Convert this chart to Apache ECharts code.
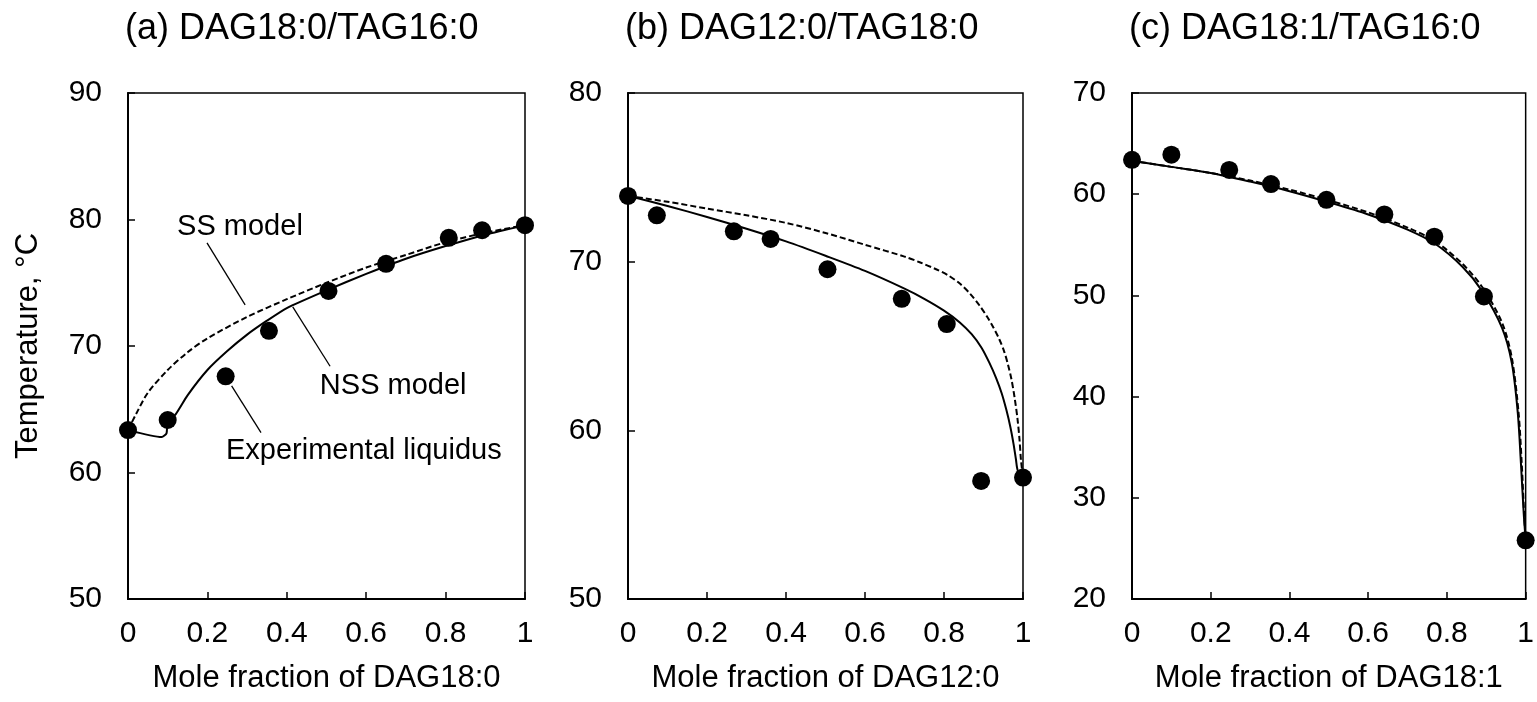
<!DOCTYPE html>
<html>
<head>
<meta charset="utf-8">
<script src="https://cdn.jsdelivr.net/npm/echarts@6/dist/echarts.min.js"></script>
<style>html,body{margin:0;padding:0;background:#fff;}#c{width:1537px;height:702px;}</style>
</head>
<body>
<div id="c"></div>
<script>
// ---------- Panel (a) DAG18:0/TAG16:0 ----------
const aExpX = [0, 0.10, 0.246, 0.355, 0.505, 0.65, 0.808, 0.892, 1];
const aExpT = [63.35, 64.15, 67.6, 71.2, 74.35, 76.5, 78.55, 79.15, 79.55];
const aNssX = [0, 0.085, 0.097, 0.10, 0.12, 0.15, 0.2, 0.25, 0.3, 0.35, 0.4, 0.5, 0.6, 0.7, 0.8, 0.9, 1];
const aNssT = [63.35, 62.8, 63.1, 64.0, 64.6, 66.1, 68.1, 69.6, 70.9, 72.0, 73.0, 74.4, 75.7, 76.9, 77.9, 78.8, 79.55];
const aSsX = [0, 0.02, 0.05, 0.1, 0.15, 0.2, 0.3, 0.4, 0.5, 0.6, 0.7, 0.8, 0.9, 1];
const aSsT = [63.35, 64.6, 66.3, 68.1, 69.5, 70.6, 72.3, 73.7, 75.0, 76.2, 77.2, 78.2, 78.95, 79.55];

// ---------- Panel (b) DAG12:0/TAG18:0 ----------
const bExpX = [0, 0.073, 0.268, 0.361, 0.505, 0.693, 0.807, 0.894, 1];
const bExpT = [73.9, 72.75, 71.8, 71.35, 69.55, 67.8, 66.3, 57.0, 57.2];
const bNssX = [0, 0.1, 0.2, 0.3, 0.4, 0.5, 0.6, 0.7, 0.75, 0.8, 0.84, 0.87, 0.895, 0.915, 0.932, 0.946, 0.958, 0.968, 0.976, 0.982, 0.987, 1];
const bNssT = [73.9, 73.3, 72.65, 71.95, 71.2, 70.35, 69.45, 68.4, 67.8, 67.1, 66.4, 65.7, 64.9, 64.0, 63.1, 62.2, 61.2, 60.2, 59.2, 58.3, 57.6, 57.2];
const bSsX = [0, 0.1, 0.2, 0.3, 0.4, 0.5, 0.6, 0.7, 0.74, 0.78, 0.81, 0.84, 0.866, 0.89, 0.91, 0.925, 0.94, 0.952, 0.962, 0.971, 0.979, 0.986, 0.991, 0.995, 1];
const bSsT = [73.9, 73.55, 73.15, 72.75, 72.3, 71.7, 71.0, 70.3, 69.95, 69.55, 69.2, 68.7, 68.1, 67.4, 66.7, 66.1, 65.4, 64.7, 63.9, 63.0, 61.9, 60.7, 59.5, 58.2, 57.2];

// ---------- Panel (c) DAG18:1/TAG16:0 ----------
const cExpX = [0, 0.10, 0.247, 0.353, 0.494, 0.641, 0.768, 0.894, 1];
const cExpT = [63.4, 63.9, 62.4, 61.0, 59.45, 58.0, 55.8, 49.9, 25.8];
const cNssX = [0, 0.1, 0.2, 0.3, 0.4, 0.5, 0.6, 0.7, 0.77, 0.84, 0.89, 0.94, 0.965, 0.98, 0.988, 0.995, 1];
const cNssT = [63.3, 62.7, 62.1, 61.25, 60.3, 59.2, 58.0, 56.5, 55.1, 52.8, 50.4, 46.8, 43.3, 38.4, 33.4, 28.5, 25.8];
const cSsX = [0, 0.1, 0.2, 0.3, 0.4, 0.5, 0.6, 0.7, 0.77, 0.84, 0.89, 0.94, 0.965, 0.982, 0.99, 0.996, 1];
const cSsT = [63.3, 62.7, 62.1, 61.35, 60.45, 59.4, 58.2, 56.7, 55.35, 53.1, 50.8, 47.3, 43.8, 38.4, 33.4, 28.5, 25.8];

// ---------- Axis settings / labels ----------
const titles = ['(a) DAG18:0/TAG16:0', '(b) DAG12:0/TAG18:0', '(c) DAG18:1/TAG16:0'];
const xNames = ['Mole fraction of DAG18:0', 'Mole fraction of DAG12:0', 'Mole fraction of DAG18:1'];
const yName = 'Temperature, \u00B0C';
const yMin = [50, 50, 20];
const yMax = [90, 80, 70];

// ---------- Annotations in panel (a), data coordinates ----------
const annoText = ['SS model', 'NSS model', 'Experimental liquidus'];
const annoX = [0.282, 0.668, 0.594];
const annoT = [79.4, 66.85, 61.7];
const leaderSsX = [0.199, 0.295];
const leaderSsT = [78.15, 73.25];
const leaderNssX = [0.415, 0.509];
const leaderNssT = [73.1, 68.4];
const leaderExpX = [0.261, 0.335];
const leaderExpT = [66.85, 63.15];

const zip = (xs, ys) => xs.map((x, i) => [x, ys[i]]);
const FONT = '"Liberation Sans", Arial, sans-serif';
const grids = [
  {left: 128, width: 397, top: 93, bottom: 103},
  {left: 628, width: 395, top: 93, bottom: 103},
  {left: 1132, width: 396, top: 93, bottom: 103}
];

const option = {
  backgroundColor: '#fff',
  animation: false,
  textStyle: {fontFamily: FONT, color: '#000'},
  title: titles.map((t, i) => ({
    text: t, left: grids[i].left - 3, top: 11, padding: 0,
    textStyle: {fontFamily: FONT, fontSize: 36, fontWeight: 'normal', color: '#000'}
  })),
  grid: grids.map(g => Object.assign({show: true, borderColor: '#000', borderWidth: 1.5, backgroundColor: 'transparent'}, g)),
  xAxis: [0, 1, 2].map(i => ({
    type: 'value', gridIndex: i, min: 0, max: 1, interval: 0.2,
    name: xNames[i], nameLocation: 'middle', nameGap: 64,
    nameTextStyle: {fontFamily: FONT, fontSize: 31, color: '#000'},
    axisLine: {show: true, lineStyle: {color: '#000', width: 2}},
    axisTick: {show: true, inside: true, length: 7, lineStyle: {color: '#000', width: 1.5}},
    axisLabel: {fontFamily: FONT, fontSize: 30, color: '#000', margin: 20, showMinLabel: true, showMaxLabel: true,
      formatter: v => String(Math.round(v * 10) / 10)},
    splitLine: {show: false}
  })),
  yAxis: [0, 1, 2].map(i => ({
    type: 'value', gridIndex: i, min: yMin[i], max: yMax[i], interval: 10,
    name: i === 0 ? yName : '', nameLocation: 'middle', nameGap: 84,
    nameTextStyle: {fontFamily: FONT, fontSize: 31, color: '#000'},
    axisLine: {show: true, lineStyle: {color: '#000', width: 2}},
    axisTick: {show: true, inside: true, length: 7, lineStyle: {color: '#000', width: 1.5}},
    axisLabel: {fontFamily: FONT, fontSize: 30, color: '#000', margin: 26},
    splitLine: {show: false}
  })),
  series: []
};

const panels = [
  {ss: zip(aSsX, aSsT), nss: zip(aNssX, aNssT), exp: zip(aExpX, aExpT)},
  {ss: zip(bSsX, bSsT), nss: zip(bNssX, bNssT), exp: zip(bExpX, bExpT)},
  {ss: zip(cSsX, cSsT), nss: zip(cNssX, cNssT), exp: zip(cExpX, cExpT)}
];
panels.forEach((p, i) => {
  option.series.push({
    type: 'line', xAxisIndex: i, yAxisIndex: i, data: p.ss, showSymbol: false, symbol: 'none',
    smooth: 0.3, clip: false, lineStyle: {color: '#000', width: 2, type: [6, 3], opacity: 1}, z: 2
  });
  option.series.push({
    type: 'line', xAxisIndex: i, yAxisIndex: i, data: p.nss, showSymbol: false, symbol: 'none',
    smooth: i === 0 ? 0.2 : 0.3, clip: false, lineStyle: {color: '#000', width: 2, opacity: 1}, z: 3
  });
  option.series.push({
    type: 'scatter', xAxisIndex: i, yAxisIndex: i, data: p.exp, symbol: 'circle', symbolSize: 18,
    clip: false, itemStyle: {color: '#000', opacity: 1}, z: 4
  });
});

[[leaderSsX, leaderSsT], [leaderNssX, leaderNssT], [leaderExpX, leaderExpT]].forEach(([xs, ys]) => {
  option.series.push({
    type: 'line', xAxisIndex: 0, yAxisIndex: 0, data: zip(xs, ys), symbol: 'none',
    lineStyle: {color: '#000', width: 1.3, opacity: 1}, z: 1
  });
});
option.series.push({
  type: 'scatter', xAxisIndex: 0, yAxisIndex: 0, symbolSize: 0,
  itemStyle: {opacity: 1},
  data: annoText.map((t, i) => ({value: [annoX[i], annoT[i]], name: t})),
  label: {show: true, position: 'inside', formatter: p => p.name, fontFamily: FONT, fontSize: 29, color: '#000', opacity: 1},
  z: 5
});

const chart = echarts.init(document.getElementById('c'), null, {renderer: 'canvas'});
chart.setOption(option);
</script>
</body>
</html>
